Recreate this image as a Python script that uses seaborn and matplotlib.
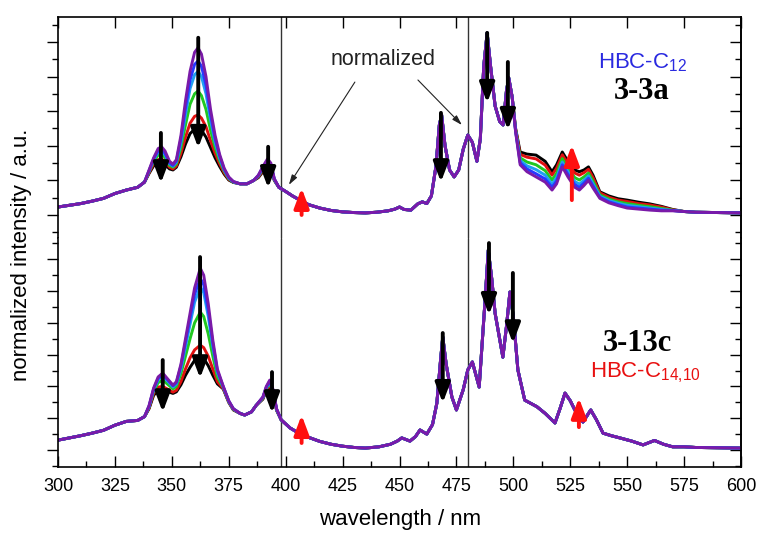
import pandas as pd
import seaborn as sns
import matplotlib.pyplot as plt
from matplotlib.ticker import MultipleLocator

# series order: drawn first -> last (purple ends on top)
SERIES = ["black", "red", "green", "cyan", "blue", "purple"]
COLORS = ["#000000", "#e01010", "#20c820", "#20a0f0", "#2838ff", "#7a1aa8"]

# ---------------- top panel (HBC-C12, 3-3a) ----------------
TOP_WL_A = [300, 305, 310, 315, 320, 325, 330, 335, 338]
TOP_A = [0.23, 0.28, 0.33, 0.40, 0.48, 0.62, 0.72, 0.80, 0.95]

TOP_WL_B = [340, 342, 344, 345.5, 347, 349, 350.5, 352, 354, 356, 358, 360, 361.5,
            363, 365, 367, 369, 371, 373, 375, 377]
TOP_B = {
    "purple": [1.30, 1.65, 1.92, 1.97, 1.85, 1.55, 1.47, 1.60, 2.30, 3.30, 4.15, 4.70, 4.83, 4.65, 4.00, 3.05, 2.30, 1.75, 1.35, 1.10, 0.97],
    "blue":   [1.28, 1.62, 1.86, 1.90, 1.78, 1.50, 1.43, 1.56, 2.20, 3.10, 3.90, 4.35, 4.45, 4.30, 3.75, 2.90, 2.20, 1.70, 1.32, 1.08, 0.96],
    "cyan":   [1.27, 1.60, 1.82, 1.85, 1.74, 1.48, 1.41, 1.53, 2.10, 2.90, 3.65, 4.05, 4.15, 4.00, 3.50, 2.75, 2.10, 1.65, 1.30, 1.07, 0.96],
    "green":  [1.25, 1.55, 1.73, 1.75, 1.66, 1.43, 1.38, 1.48, 1.95, 2.60, 3.20, 3.50, 3.58, 3.45, 3.05, 2.45, 1.95, 1.57, 1.27, 1.05, 0.95],
    "red":    [1.22, 1.48, 1.60, 1.62, 1.55, 1.38, 1.33, 1.42, 1.78, 2.25, 2.65, 2.85, 2.89, 2.80, 2.55, 2.15, 1.78, 1.48, 1.22, 1.03, 0.95],
    "black":  [1.20, 1.42, 1.50, 1.50, 1.45, 1.33, 1.30, 1.38, 1.68, 2.05, 2.35, 2.48, 2.50, 2.45, 2.25, 1.95, 1.65, 1.40, 1.18, 1.01, 0.94],
}

TOP_WL_C = [380, 383, 386]
TOP_C = [0.90, 0.90, 1.00]

TOP_WL_D = [388, 390, 392, 393.5, 395]
TOP_D = {
    "purple": [1.15, 1.40, 1.62, 1.50, 1.05],
    "blue":   [1.14, 1.38, 1.58, 1.46, 1.04],
    "cyan":   [1.13, 1.36, 1.55, 1.44, 1.03],
    "green":  [1.12, 1.33, 1.50, 1.40, 1.02],
    "red":    [1.10, 1.28, 1.44, 1.35, 1.01],
    "black":  [1.08, 1.25, 1.40, 1.32, 1.00],
}

TOP_WL_E = [397, 400, 403, 406, 410, 415, 420, 425, 430, 435, 440, 445, 448, 450, 452, 455,
            458, 460, 462, 464, 466, 467.5, 468.5, 470, 472, 474, 476, 478, 480, 482, 484,
            485.5, 487, 488.5, 490, 492, 494, 495.5, 497, 498, 499.5]
TOP_E = [0.80, 0.68, 0.55, 0.44, 0.30, 0.20, 0.13, 0.09, 0.07, 0.06, 0.08, 0.12, 0.17, 0.23, 0.16, 0.14,
         0.32, 0.38, 0.33, 0.55, 1.40, 2.60, 2.89, 2.00, 1.30, 1.10, 1.30, 1.90, 2.31, 2.10, 1.55,
         2.20, 4.30, 5.26, 4.30, 3.15, 2.70, 2.60, 3.60, 3.96, 3.40]

TOP_WL_H = [501, 503, 506, 510, 514, 517, 519, 521.5, 524, 527, 529, 531, 533, 535, 538, 542,
            546, 550, 555, 560, 565, 570]
TOP_H = {
    "purple": [2.40, 1.45, 1.25, 1.10, 0.95, 0.72, 0.90, 1.39, 1.10, 0.80, 0.72, 0.85, 1.00, 0.78, 0.48, 0.35, 0.27, 0.20, 0.17, 0.14, 0.12, 0.12],
    "blue":   [2.42, 1.51, 1.33, 1.19, 1.04, 0.80, 0.98, 1.45, 1.17, 0.88, 0.80, 0.92, 1.06, 0.84, 0.51, 0.38, 0.30, 0.23, 0.20, 0.17, 0.14, 0.13],
    "cyan":   [2.43, 1.57, 1.42, 1.31, 1.15, 0.89, 1.08, 1.53, 1.25, 0.97, 0.89, 1.00, 1.13, 0.90, 0.54, 0.42, 0.34, 0.28, 0.24, 0.20, 0.16, 0.13],
    "green":  [2.46, 1.65, 1.53, 1.45, 1.28, 1.01, 1.20, 1.63, 1.35, 1.08, 1.01, 1.10, 1.21, 0.98, 0.58, 0.46, 0.38, 0.33, 0.28, 0.24, 0.19, 0.14],
    "red":    [2.48, 1.75, 1.67, 1.62, 1.44, 1.15, 1.35, 1.74, 1.47, 1.21, 1.15, 1.22, 1.32, 1.08, 0.64, 0.51, 0.43, 0.39, 0.33, 0.29, 0.23, 0.15],
    "black":  [2.50, 1.82, 1.76, 1.73, 1.55, 1.25, 1.45, 1.82, 1.55, 1.30, 1.25, 1.30, 1.39, 1.15, 0.67, 0.55, 0.47, 0.43, 0.37, 0.32, 0.25, 0.16],
}

TOP_WL_J = [575, 580, 590, 600]
TOP_J = [0.10, 0.08, 0.07, 0.06]

# ---------------- bottom panel (HBC-C14,10, 3-13c) ----------------
BOT_WL_A = [300, 305, 310, 315, 320, 325, 330, 335, 338]
BOT_A = [0.31, 0.38, 0.45, 0.53, 0.62, 0.78, 0.90, 0.93, 1.05]

BOT_WL_B = [340, 342, 344, 346, 348, 350.5, 352, 354, 356, 358, 360, 362.5, 364, 366, 368,
            370, 372.6, 375, 377]
BOT_B = {
    "purple": [1.40, 1.95, 2.30, 2.42, 2.25, 2.04, 2.15, 2.70, 3.50, 4.30, 5.10, 5.72, 5.50, 4.60, 3.46, 2.55, 2.00, 1.55, 1.30],
    "blue":   [1.38, 1.92, 2.26, 2.38, 2.22, 2.02, 2.12, 2.65, 3.40, 4.15, 4.90, 5.40, 5.20, 4.40, 3.35, 2.50, 1.99, 1.54, 1.30],
    "cyan":   [1.37, 1.90, 2.22, 2.32, 2.18, 1.98, 2.08, 2.55, 3.25, 3.95, 4.65, 5.13, 4.95, 4.20, 3.25, 2.45, 1.98, 1.53, 1.29],
    "green":  [1.35, 1.85, 2.12, 2.20, 2.08, 1.92, 2.00, 2.40, 2.95, 3.50, 4.00, 4.34, 4.20, 3.65, 2.95, 2.30, 1.96, 1.52, 1.28],
    "red":    [1.32, 1.78, 1.98, 2.00, 1.92, 1.82, 1.88, 2.15, 2.55, 2.90, 3.15, 3.30, 3.22, 2.95, 2.55, 2.15, 1.93, 1.50, 1.27],
    "black":  [1.30, 1.72, 1.88, 1.89, 1.84, 1.78, 1.83, 2.05, 2.35, 2.60, 2.82, 2.92, 2.88, 2.65, 2.35, 2.08, 1.92, 1.50, 1.26],
}

BOT_WL_C = [380, 382, 385, 387]
BOT_C = [1.15, 1.10, 1.20, 1.40]

BOT_WL_D = [390, 391.5, 393, 394.5, 396]
BOT_D = {
    "purple": [1.67, 2.00, 2.20, 1.90, 1.30],
    "blue":   [1.66, 1.98, 2.16, 1.87, 1.29],
    "cyan":   [1.65, 1.96, 2.13, 1.85, 1.28],
    "green":  [1.64, 1.93, 2.09, 1.82, 1.27],
    "red":    [1.62, 1.90, 2.04, 1.79, 1.26],
    "black":  [1.60, 1.87, 2.00, 1.77, 1.25],
}

BOT_WL_E = [398, 402, 406, 410, 415, 420, 425, 430, 435, 441, 446, 449, 451, 454.6, 457, 459,
            462, 464.5, 466.4, 468, 469, 470.5, 473, 475, 478, 480, 482, 485, 487.5, 489, 490.5,
            492, 495.4, 497, 498.5, 500, 502, 505, 510.4, 514, 518.3, 520.5, 522.7, 525, 527,
            530.6, 534, 536.5, 539.4, 543, 546.8, 552, 557, 562, 566, 570, 575, 580, 590, 600]
BOT_E = [0.95, 0.69, 0.52, 0.40, 0.27, 0.18, 0.12, 0.08, 0.06, 0.10, 0.18, 0.28, 0.38, 0.28, 0.42, 0.63,
         0.50, 0.80, 1.47, 2.80, 3.56, 2.70, 1.67, 1.26, 1.90, 2.52, 2.77, 1.98, 4.62, 6.29, 5.40,
         4.30, 2.92, 3.90, 4.97, 4.20, 2.52, 1.57, 1.36, 1.15, 0.85, 1.30, 1.79, 1.55, 1.26,
         0.88, 1.26, 0.95, 0.53, 0.45, 0.38, 0.28, 0.16, 0.30, 0.18, 0.10, 0.10, 0.08, 0.07, 0.06]

# arrows: wavelength, tail value, head value
TOP_DOWN = [(345.2, 2.37, 0.92), (361.6, 5.12, 1.94), (392.3, 1.97, 0.78),
            (468.2, 2.95, 0.95), (488.5, 5.26, 3.24), (497.6, 4.42, 2.46)]
TOP_UP = [(407, 0.0, 0.78), (525.7, 0.43, 2.02)]
BOT_DOWN = [(346, 2.83, 1.19), (362.4, 6.07, 2.26), (394, 2.45, 1.16),
            (469, 3.68, 1.48), (489.3, 6.51, 4.25), (499.8, 5.57, 3.36)]
BOT_UP = [(407, 0.22, 1.10), (528.8, 0.72, 1.64)]

VLINES = [398, 480]

# build long tables
rows = []
for s in SERIES:
    wl = TOP_WL_A + TOP_WL_B + TOP_WL_C + TOP_WL_D + TOP_WL_E + TOP_WL_H + TOP_WL_J
    val = TOP_A + TOP_B[s] + TOP_C + TOP_D[s] + TOP_E + TOP_H[s] + TOP_J
    rows += [("top", s, w, v) for w, v in zip(wl, val)]
    wl = BOT_WL_A + BOT_WL_B + BOT_WL_C + BOT_WL_D + BOT_WL_E
    val = BOT_A + BOT_B[s] + BOT_C + BOT_D[s] + BOT_E
    rows += [("bot", s, w, v) for w, v in zip(wl, val)]
df = pd.DataFrame(rows, columns=["panel", "series", "wavelength", "intensity"])

sns.set_style("ticks")
plt.rcParams["font.family"] = ["Liberation Sans", "DejaVu Sans"]
plt.rcParams["mathtext.default"] = "regular"
for k in ["xtick.color", "ytick.color", "axes.edgecolor", "text.color", "axes.labelcolor"]:
    plt.rcParams[k] = "black"

fig = plt.figure(figsize=(7.58, 5.34), dpi=100)
W, H = 758, 534
L, R = 58, 741
ax_top = fig.add_axes([L / W, 1 - 238 / H, (R - L) / W, (238 - 17) / H])
ax_bot = fig.add_axes([L / W, 1 - 467 / H, (R - L) / W, (467 - 238) / H])

palette = dict(zip(SERIES, COLORS))
for ax, panel in [(ax_top, "top"), (ax_bot, "bot")]:
    sns.lineplot(data=df[df.panel == panel], x="wavelength", y="intensity", hue="series",
                 hue_order=SERIES, palette=palette, sort=False, estimator=None,
                 lw=2.1, legend=False, ax=ax)
    for v in VLINES:
        ax.axvline(v, color="#333333", lw=1.0, zorder=1)
    ax.set_xlim(300, 600)
    ax.set_xlabel("")
    ax.set_ylabel("")
    ax.set_yticklabels([])
    ax.yaxis.set_major_locator(MultipleLocator(1))
    ax.yaxis.set_minor_locator(MultipleLocator(0.5))
    ax.tick_params(axis="y", which="major", direction="out", length=8, width=1, left=True, right=False)
    ax.tick_params(axis="y", which="minor", direction="out", length=4, width=1, left=True, right=False)
    for sp in ax.spines.values():
        sp.set_linewidth(1.2)
    sec = ax.secondary_yaxis("right")
    sec.yaxis.set_major_locator(MultipleLocator(1))
    sec.yaxis.set_minor_locator(MultipleLocator(0.5))
    sec.tick_params(which="major", direction="in", length=8, width=1, labelright=False)
    sec.tick_params(which="minor", direction="in", length=4, width=1)
    sec.spines["right"].set_linewidth(1.2)

ax_top.set_ylim(-0.665, 5.72)
ax_bot.set_ylim(-0.535, 6.67)

ax_top.spines["bottom"].set_visible(False)
ax_bot.spines["top"].set_visible(False)
ax_top.xaxis.set_major_locator(MultipleLocator(25))
ax_top.tick_params(axis="x", which="both", bottom=False, top=True, labelbottom=False,
                   direction="in", length=8, width=1)
ax_bot.xaxis.set_major_locator(MultipleLocator(25))
ax_bot.xaxis.set_minor_locator(MultipleLocator(12.5))
ax_bot.tick_params(axis="x", which="major", direction="in", length=8, width=1,
                   top=False, labelsize=13, pad=8)
ax_bot.tick_params(axis="x", which="minor", direction="in", length=4, width=1, top=False)


def draw_arrows(ax, arrows, color):
    for wl, y0, y1 in arrows:
        ax.annotate("", xy=(wl, y1), xytext=(wl, y0),
                    arrowprops=dict(arrowstyle="-|>,head_width=0.32,head_length=0.85",
                                    color=color, lw=2.8, mutation_scale=14,
                                    shrinkA=0, shrinkB=0), zorder=5)


draw_arrows(ax_top, TOP_DOWN, "black")
draw_arrows(ax_top, TOP_UP, "#ff1010")
draw_arrows(ax_bot, BOT_DOWN, "black")
draw_arrows(ax_bot, BOT_UP, "#ff1010")

# "normalized" pointers
ax_top.text(442.7, 4.48, "normalized", fontsize=15.5, ha="center", va="center", color="#222222")
thin = dict(arrowstyle="-|>,head_width=0.15,head_length=0.5", color="#222222", lw=0.8,
            shrinkA=0, shrinkB=0, mutation_scale=12)
ax_top.annotate("", xy=(401.4, 0.87), xytext=(430.4, 3.84), arrowprops=thin)
ax_top.annotate("", xy=(477.4, 2.6), xytext=(458.1, 3.9), arrowprops=thin)

ax_top.text(537.2, 4.39, "HBC-C$_{12}$", fontsize=16, color="#2a2ae0", ha="left", va="center")
ax_top.text(556.5, 3.56, "3-3a", fontsize=22, fontweight="bold", family="Liberation Serif",
            ha="center", va="center")
ax_bot.text(554.3, 3.36, "3-13c", fontsize=22, fontweight="bold", family="Liberation Serif",
            ha="center", va="center")
ax_bot.text(533.6, 2.42, "HBC-C$_{14{,}10}$", fontsize=16, color="#e81010", ha="left", va="center")

fig.text(400 / W, 1 - 520 / H, "wavelength / nm", fontsize=16, ha="center", va="center")
fig.text(22 / W, 1 - 255 / H, "normalized intensity / a.u.", fontsize=16, ha="center",
         va="center", rotation=90)

fig.savefig("out.png", dpi=100)
